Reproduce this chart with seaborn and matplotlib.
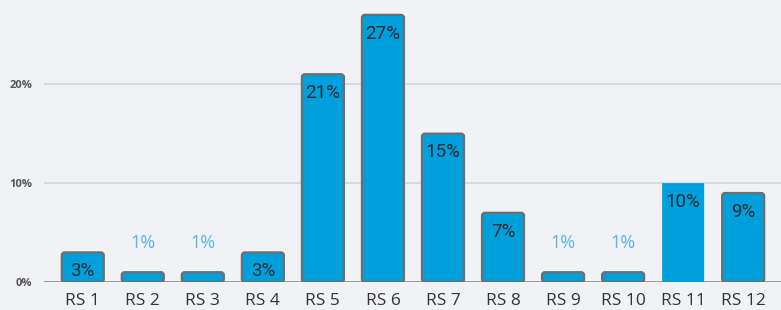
import numpy as np
import pandas as pd
import matplotlib
matplotlib.use("Agg")
import matplotlib.pyplot as plt
import seaborn as sns
from matplotlib.patches import FancyBboxPatch

categorias = ["RS 1", "RS 2", "RS 3", "RS 4", "RS 5", "RS 6",
              "RS 7", "RS 8", "RS 9", "RS 10", "RS 11", "RS 12"]
valores = [3, 1, 1, 3, 21, 27, 15, 7, 1, 1, 10, 9]
yticks = [0, 10, 20]
ytick_labels = ["0%", "10%", "20%"]

fundo = "#f0f2f5"
azul = "#00a0dc"
borda = "#6e6e6e"

sns.set_theme(style="white")
plt.rcParams["font.family"] = ["Open Sans", "DejaVu Sans"]

df = pd.DataFrame({"cat": categorias, "valor": valores})

fig = plt.figure(figsize=(7.81, 3.10), dpi=100, facecolor=fundo)
ax = fig.add_axes([0.056, 0.09, 0.944, 0.91])
ax.set_facecolor(fundo)

sns.barplot(data=df, x="cat", y="valor", color=azul, width=0.7,
            saturation=1, ax=ax, zorder=3)

# troca as barras por retângulos arredondados
for i, p in enumerate(list(ax.patches)):
    x, w, h = p.get_x(), p.get_width(), p.get_height()
    p.remove()
    sem_borda = categorias[i] == "RS 11"
    box = FancyBboxPatch(
        (x, 0), w, h,
        boxstyle="round,pad=0,rounding_size=%s" % (0.0 if sem_borda else 0.05),
        mutation_aspect=6,
        facecolor=azul,
        edgecolor=azul if sem_borda else borda,
        linewidth=0 if sem_borda else 1.6,
        zorder=3,
    )
    ax.add_patch(box)

for i, v in enumerate(valores):
    if v <= 1:
        ax.text(i, v + 3.0, f"{v}%", ha="center", va="center",
                fontsize=13, color="#5ab4e6", zorder=4)
    else:
        ax.text(i, v - 1.9, f"{v}%", ha="center", va="center",
                fontsize=13.5, color="#1e2b33", family=["Roboto", "DejaVu Sans"], zorder=4)

for y in yticks:
    ax.axhline(y, color="#d3d6da" if y else "#8a8a8a", lw=1.2, zorder=1)

ax.set_xlim(-0.65, 11.63)
ax.set_ylim(0, 28.5)
ax.set_yticks(yticks)
ax.set_yticklabels(ytick_labels, fontsize=8, color="#555555", fontweight="bold")
ax.tick_params(axis="y", length=0, pad=8)
ax.tick_params(axis="x", length=0, pad=8, labelsize=12.5, labelcolor="#333333")
ax.set_xlabel("")
ax.set_ylabel("")
sns.despine(left=True, bottom=True, top=True, right=True)
ax.grid(False)

fig.savefig("out.png", dpi=100, facecolor=fundo)
